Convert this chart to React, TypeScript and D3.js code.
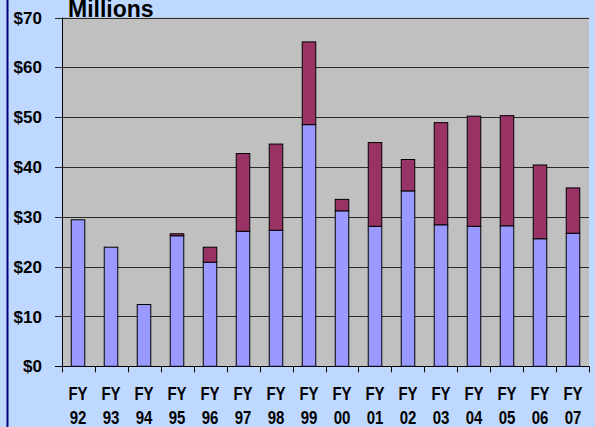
import * as d3 from 'd3';
import React from 'react';

const years = ['92', '93', '94', '95', '96', '97', '98', '99', '00', '01', '02', '03', '04', '05', '06', '07'];
const baseFunding = [29.4, 23.9, 12.4, 26.2, 20.9, 27.1, 27.3, 48.5, 31.2, 28.1, 35.2, 28.4, 28.1, 28.2, 25.6, 26.7];
const addedFunding = [0, 0, 0, 0.4, 3.0, 15.6, 17.3, 16.6, 2.3, 16.8, 6.3, 20.5, 22.1, 22.1, 14.8, 9.1];
const yTicks = [0, 10, 20, 30, 40, 50, 60, 70];

const W = 595;
const H = 427;
const left = 62;
const right = 589;
const top = 17.5;
const bottom = 366.3;

const colors = ['#9999ff', '#993366'];

const App = () => {
  const x = d3.scaleBand<string>().domain(years).range([left, right]).paddingInner(0.59).paddingOuter(0.28);
  const y = d3.scaleLinear().domain([0, 70]).range([bottom, top]);

  const rows = years.map((yr, i) => ({ yr, base: baseFunding[i], added: addedFunding[i] }));
  const stacked = d3.stack<any>().keys(['base', 'added'])(rows);

  const step = (right - left) / years.length;

  return (
    <svg width={W} height={H} style={{ position: 'absolute', left: 0, top: 0 }} fontFamily="Arial, 'Liberation Sans', sans-serif">
      <rect x={0} y={0} width={W} height={H} fill="#bfd8ff" />
      <line x1={7.5} x2={7.5} y1={0} y2={H} stroke="#000080" strokeWidth={2} />
      <rect x={left} y={top} width={right - left} height={bottom - top} fill="#c0c0c0" />
      {yTicks.map((t) => (
        <g key={t}>
          <line x1={55} x2={right} y1={Math.round(y(t)) + 0.5} y2={Math.round(y(t)) + 0.5} stroke={t === 0 ? '#000' : '#2a2a2a'} strokeWidth={1} />
          <text x={42} y={y(t)} dy="0.36em" textAnchor="end" fontSize={17} fontWeight="bold" fill="#000">
            ${t}
          </text>
        </g>
      ))}
      <line x1={left + 0.5} x2={left + 0.5} y1={top} y2={bottom} stroke="#000" />
      {d3.range(years.length + 1).map((i) => (
        <line key={i} x1={Math.round(left + i * step) + 0.5} x2={Math.round(left + i * step) + 0.5} y1={bottom} y2={bottom + 6} stroke="#000" />
      ))}
      {stacked.map((layer, li) => (
        <g key={li} fill={colors[li]} stroke="#000" strokeWidth={1}>
          {layer.map((d, i) =>
            d[1] - d[0] > 0 ? (
              <rect key={i} x={x(years[i])} y={y(d[1])} width={x.bandwidth()} height={y(d[0]) - y(d[1])} />
            ) : null
          )}
        </g>
      ))}
      {years.map((yr) => {
        const cx = (x(yr) as number) + x.bandwidth() / 2;
        return (
          <g key={yr} fontSize={15} fontWeight="bold" fill="#000" textAnchor="middle">
            <text transform={`translate(${cx},400) scale(1,1.25)`}>FY</text>
            <text transform={`translate(${cx},423.5) scale(1,1.25)`}>{yr}</text>
          </g>
        );
      })}
      <text x={68} y={17} fontSize={23} fontWeight="bold" fill="#000">Millions</text>
    </svg>
  );
};

export default App;
